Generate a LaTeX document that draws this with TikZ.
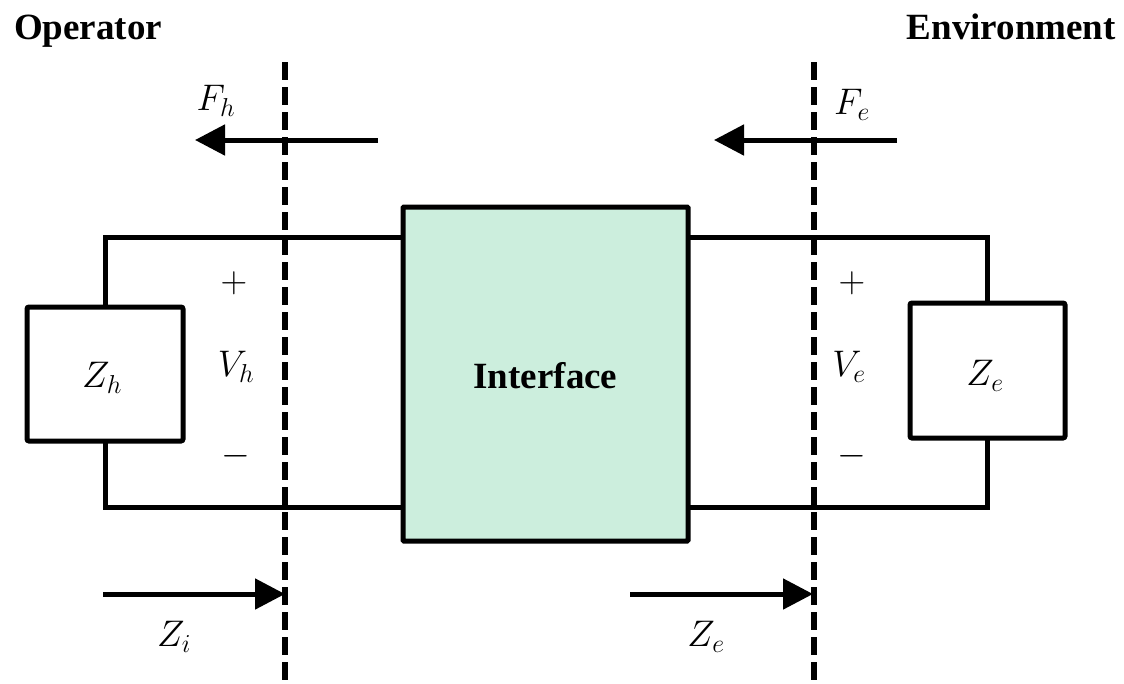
\documentclass[tikz,border=0pt]{standalone}
\usepackage{fix-cm}
\usepackage{fontspec}
\setmainfont{Liberation Serif}
\usetikzlibrary{arrows.meta}
\definecolor{ifacefill}{RGB}{204,238,221}
\tikzset{
  wire/.style={line width=5pt, line join=miter, line cap=rect},
  zbox/.style={draw, line width=5pt, rounded corners=2pt, fill=white, inner sep=0pt},
  ifacebox/.style={draw, line width=5pt, fill=ifacefill, rounded corners=1pt, inner sep=0pt, minimum width=285pt, minimum height=334pt},
  portline/.style={line width=6pt, dash pattern=on 18pt off 7pt},
  bigarrow/.style={line width=5pt, -{Triangle[length=30pt,width=30pt]}},
  lbl/.style={inner sep=0pt, font=\fontsize{37}{42}\selectfont},
  title/.style={inner sep=0pt, font=\fontsize{37}{42}\selectfont\bfseries},
}
\begin{document}
\begin{tikzpicture}[x=1pt,y=-1pt]
\useasboundingbox (0,0) rectangle (1124,683);
% titles
\node[title, anchor=base west] (op) at (14,39) {Operator};
\node[title, anchor=base east] (env) at (1116,39) {Environment};
% port lines
\coordinate (ph1) at (285,62);
\coordinate (ph2) at (285,683);
\coordinate (pe1) at (814,62);
\coordinate (pe2) at (814,683);
% impedance boxes
\node[zbox, minimum width=156pt, minimum height=134pt] (zh) at (105,374) {};
\node[zbox, minimum width=155pt, minimum height=135pt] (ze) at (987.5,370.5) {};
\node[lbl] (zhtxt) at (102,378) {$Z_h$};
\node[lbl] (zetxt) at (985,376) {$Z_e$};
% wires
\coordinate (lt) at (403,237);
\coordinate (lb) at (403,507);
\coordinate (rt) at (688,237);
\coordinate (rb) at (688,507);
\draw[wire] (lt) -| (zh.north);
\draw[wire] (lb) -| (zh.south);
\draw[wire] (rt) -| (ze.north);
\draw[wire] (rb) -| (ze.south);
% interface
\node[ifacebox] (iface) at (545.5,374) {};
\node[title] (ifacetxt) at (545.5,376) {Interface};
% port lines on top
\draw[portline] (ph1) -- (ph2);
\draw[portline] (pe1) -- (pe2);
% force arrows
\coordinate (fh1) at (378,140);
\coordinate (fh2) at (195,140);
\coordinate (fe1) at (897,140);
\coordinate (fe2) at (714,140);
\draw[bigarrow] (fh1) -- (fh2);
\draw[bigarrow] (fe1) -- (fe2);
\node[lbl] (fh) at (216,101) {$F_h$};
\node[lbl] (fe) at (852,105) {$F_e$};
% impedance arrows
\coordinate (zi1) at (103,594);
\coordinate (zi2) at (285,594);
\coordinate (ze1) at (630,594);
\coordinate (ze2) at (813,594);
\draw[bigarrow] (zi1) -- (zi2);
\draw[bigarrow] (ze1) -- (ze2);
\node[lbl] (zi) at (174,637) {$Z_i$};
\node[lbl] (zel) at (706,637) {$Z_e$};
% voltages
\node[lbl] (ph) at (234,283) {$+$};
\node[lbl] (vh) at (236,367) {$V_h$};
\node[lbl] (mh) at (236,456) {$-$};
\node[lbl] (pe) at (852,283) {$+$};
\node[lbl] (ve) at (849,367) {$V_e$};
\node[lbl] (me) at (852,456) {$-$};
\end{tikzpicture}
\end{document}
